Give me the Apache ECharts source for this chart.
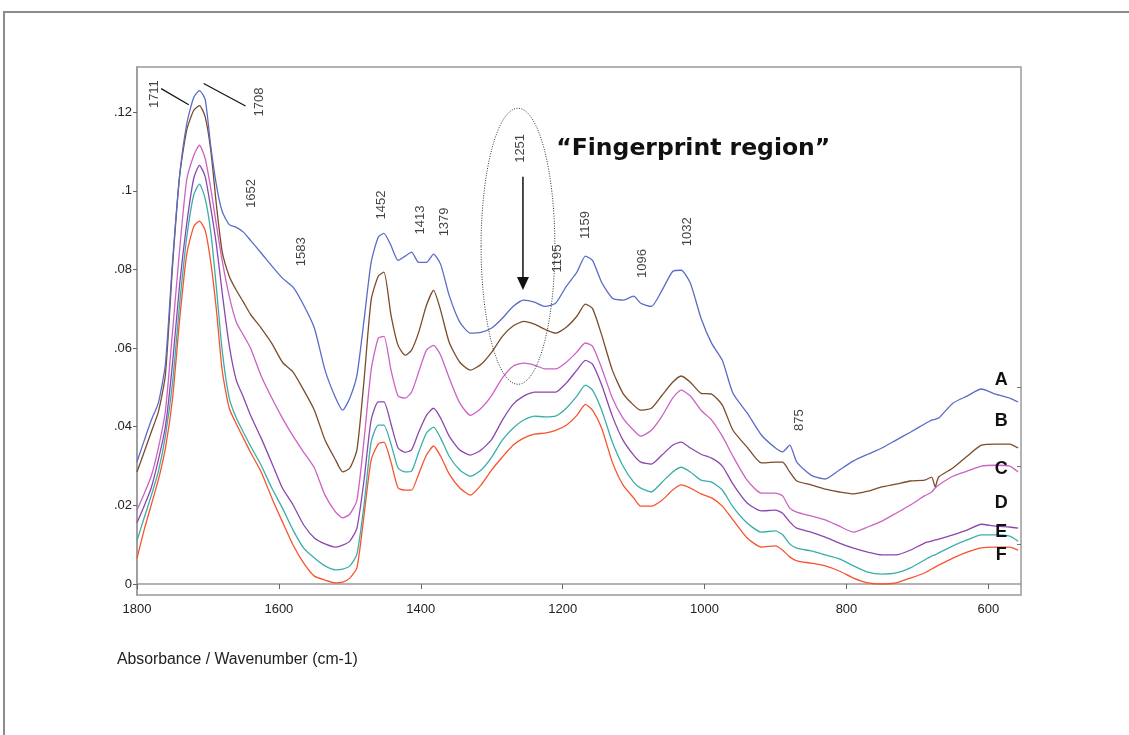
<!DOCTYPE html>
<html>
<head>
<meta charset="utf-8">
<title>IR absorbance spectra A–F</title>
<script src="https://cdn.jsdelivr.net/npm/echarts@6/dist/echarts.min.js"></script>
<style>
  html, body { margin: 0; padding: 0; background: #ffffff; }
  #chart { width: 1129px; height: 735px; }
</style>
</head>
<body>
<div id="chart"></div>
<script>
// Wavenumber sampling grid (cm-1), high to low
const wavenumbers = [
  1800, 1790, 1780, 1770, 1760, 1750, 1740, 1730, 1720, 1712,
  1704, 1696, 1688, 1680, 1670, 1660, 1650, 1640,
  1625, 1610, 1595, 1580, 1565, 1550, 1535, 1520,
  1510, 1500, 1490, 1480, 1470, 1460,
  1452, 1442, 1432, 1422, 1413, 1403, 1392, 1382, 1372,
  1360, 1345, 1330, 1315, 1300, 1285, 1270, 1255, 1240, 1225, 1210, 1195, 1180,
  1168, 1158, 1145, 1130, 1115, 1100, 1090, 1075, 1060, 1045, 1033, 1020, 1005, 990, 975, 960,
  940, 920, 900, 890, 880, 870, 850, 830, 810, 790, 770, 750, 730, 710, 690,
  680, 675, 670, 650, 630, 610, 590, 570, 558
];

// Absorbance of each sample on the grid above
const spectrumA = [
  0.0311, 0.0364, 0.0416, 0.0460, 0.0559, 0.0818, 0.1037, 0.1169, 0.1238, 0.1255,
  0.1233, 0.1113, 0.1014, 0.0948, 0.0914, 0.0907, 0.0895, 0.0874,
  0.0842, 0.0809, 0.0778, 0.0755, 0.0709, 0.0651, 0.0544, 0.0473,
  0.0442, 0.0473, 0.0531, 0.0671, 0.0818, 0.0882,
  0.0892, 0.0861, 0.0823, 0.0834, 0.0844, 0.0818, 0.0818, 0.0839, 0.0813,
  0.0734, 0.0666, 0.0638, 0.0640, 0.0651, 0.0676, 0.0706, 0.0722, 0.0717, 0.0706, 0.0714, 0.0757, 0.0793,
  0.0834, 0.0823, 0.0767, 0.0727, 0.0722, 0.0732, 0.0714, 0.0706, 0.0747, 0.0795, 0.0798, 0.0765, 0.0676, 0.0612, 0.0569, 0.0485,
  0.0435, 0.0379, 0.0346, 0.0336, 0.0353, 0.0310, 0.0277, 0.0267, 0.0290, 0.0313, 0.0330, 0.0346, 0.0366, 0.0386, 0.0407,
  0.0417, 0.0419, 0.0422, 0.0460, 0.0478, 0.0496, 0.0483, 0.0473, 0.0463
];
const spectrumB = [
  0.0285, 0.0335, 0.0386, 0.0437, 0.0531, 0.0806, 0.1037, 0.1154, 0.1205, 0.1217,
  0.1189, 0.1103, 0.0963, 0.0846, 0.0783, 0.0747, 0.0717, 0.0686,
  0.0651, 0.0612, 0.0564, 0.0539, 0.0493, 0.0442, 0.0366, 0.0315,
  0.0285, 0.0295, 0.0341, 0.0518, 0.0722, 0.0783,
  0.0793, 0.0684, 0.0607, 0.0582, 0.0595, 0.0640, 0.0709, 0.0747, 0.0696,
  0.0615, 0.0564, 0.0544, 0.0559, 0.0590, 0.0630, 0.0656, 0.0668, 0.0661, 0.0648, 0.0638, 0.0653, 0.0681,
  0.0712, 0.0701, 0.0633, 0.0544, 0.0485, 0.0455, 0.0442, 0.0447, 0.0480, 0.0513, 0.0529, 0.0513, 0.0485, 0.0483, 0.0455, 0.0391,
  0.0348, 0.0308, 0.0310, 0.0310, 0.0285, 0.0262, 0.0252, 0.0241, 0.0234, 0.0229, 0.0236, 0.0247, 0.0254, 0.0262, 0.0264,
  0.0272, 0.0247, 0.0272, 0.0295, 0.0325, 0.0353, 0.0356, 0.0356, 0.0346
];
const spectrumC = [
  0.0188, 0.0229, 0.0274, 0.0345, 0.0440, 0.0640, 0.0849, 0.1027, 0.1090, 0.1116,
  0.1083, 0.1006, 0.0912, 0.0823, 0.0732, 0.0666, 0.0633, 0.0600,
  0.0529, 0.0473, 0.0422, 0.0376, 0.0335, 0.0295, 0.0226, 0.0183,
  0.0168, 0.0178, 0.0213, 0.0366, 0.0544, 0.0625,
  0.0630, 0.0544, 0.0478, 0.0473, 0.0488, 0.0539, 0.0595, 0.0607, 0.0582,
  0.0524, 0.0460, 0.0429, 0.0447, 0.0480, 0.0524, 0.0554, 0.0562, 0.0557, 0.0547, 0.0547, 0.0564, 0.0590,
  0.0613, 0.0605, 0.0549, 0.0473, 0.0422, 0.0391, 0.0376, 0.0391, 0.0427, 0.0473, 0.0493, 0.0478, 0.0442, 0.0417, 0.0376, 0.0325,
  0.0264, 0.0231, 0.0231, 0.0224, 0.0193, 0.0183, 0.0173, 0.0163, 0.0147, 0.0132, 0.0145, 0.0160, 0.0180, 0.0201, 0.0224,
  0.0234, 0.0244, 0.0252, 0.0274, 0.0287, 0.0300, 0.0302, 0.0300, 0.0285
];
const spectrumD = [
  0.0156, 0.0198, 0.0244, 0.0315, 0.0400, 0.0560, 0.0760, 0.0915, 0.1032, 0.1065,
  0.1037, 0.0956, 0.0862, 0.0742, 0.0607, 0.0518, 0.0475, 0.0429,
  0.0371, 0.0308, 0.0244, 0.0201, 0.0150, 0.0117, 0.0102, 0.0094,
  0.0099, 0.0109, 0.0142, 0.0264, 0.0417, 0.0463,
  0.0463, 0.0407, 0.0346, 0.0335, 0.0341, 0.0386, 0.0429, 0.0447, 0.0422,
  0.0376, 0.0341, 0.0328, 0.0341, 0.0368, 0.0417, 0.0457, 0.0478, 0.0488, 0.0488, 0.0488, 0.0511, 0.0544,
  0.0569, 0.0559, 0.0506, 0.0427, 0.0366, 0.0328, 0.0310, 0.0305, 0.0328, 0.0353, 0.0361, 0.0346, 0.0330, 0.0320, 0.0300, 0.0254,
  0.0206, 0.0186, 0.0188, 0.0180, 0.0158, 0.0142, 0.0132, 0.0119, 0.0104, 0.0091, 0.0081, 0.0074, 0.0074, 0.0086, 0.0104,
  0.0109, 0.0112, 0.0114, 0.0125, 0.0137, 0.0152, 0.0147, 0.0145, 0.0142
];
const spectrumE = [
  0.0110, 0.0168, 0.0224, 0.0285, 0.0377, 0.0510, 0.0710, 0.0880, 0.0990, 0.1017,
  0.0981, 0.0895, 0.0752, 0.0595, 0.0473, 0.0422, 0.0386, 0.0351,
  0.0302, 0.0244, 0.0193, 0.0137, 0.0091, 0.0066, 0.0046, 0.0036,
  0.0038, 0.0046, 0.0076, 0.0201, 0.0361, 0.0404,
  0.0404, 0.0356, 0.0295, 0.0285, 0.0287, 0.0335, 0.0384, 0.0399, 0.0371,
  0.0325, 0.0290, 0.0274, 0.0290, 0.0323, 0.0366, 0.0396, 0.0417, 0.0427, 0.0425, 0.0427, 0.0447, 0.0478,
  0.0506, 0.0493, 0.0442, 0.0361, 0.0300, 0.0259, 0.0244, 0.0234, 0.0259, 0.0285, 0.0297, 0.0285, 0.0264, 0.0259, 0.0239, 0.0196,
  0.0155, 0.0132, 0.0135, 0.0125, 0.0102, 0.0091, 0.0084, 0.0074, 0.0064, 0.0046, 0.0030, 0.0025, 0.0028, 0.0041, 0.0061,
  0.0071, 0.0074, 0.0079, 0.0097, 0.0112, 0.0125, 0.0125, 0.0122, 0.0109
];
const spectrumF = [
  0.0065, 0.0137, 0.0201, 0.0264, 0.0345, 0.0470, 0.0670, 0.0838, 0.0909, 0.0923,
  0.0900, 0.0818, 0.0696, 0.0544, 0.0447, 0.0407, 0.0371, 0.0335,
  0.0285, 0.0219, 0.0158, 0.0099, 0.0053, 0.0020, 0.0010, 0.0003,
  0.0005, 0.0015, 0.0041, 0.0175, 0.0315, 0.0356,
  0.0361, 0.0310, 0.0244, 0.0239, 0.0239, 0.0280, 0.0328, 0.0351, 0.0325,
  0.0280, 0.0244, 0.0226, 0.0252, 0.0290, 0.0323, 0.0353, 0.0371, 0.0381, 0.0384, 0.0391, 0.0404, 0.0429,
  0.0457, 0.0442, 0.0396, 0.0310, 0.0252, 0.0219, 0.0198, 0.0198, 0.0213, 0.0239, 0.0252, 0.0244, 0.0229, 0.0219, 0.0198, 0.0163,
  0.0117, 0.0094, 0.0097, 0.0086, 0.0069, 0.0059, 0.0053, 0.0046, 0.0033, 0.0015, 0.0003, 0.0000, 0.0003, 0.0015, 0.0028,
  0.0038, 0.0043, 0.0048, 0.0066, 0.0081, 0.0092, 0.0094, 0.0094, 0.0086
];

const sampleNames = ['A', 'B', 'C', 'D', 'E', 'F'];
const spectra = [spectrumA, spectrumB, spectrumC, spectrumD, spectrumE, spectrumF];
const lineColors = ['#5a6cc6', '#7a4c2c', '#cc62c4', '#8c47ae', '#3aaeaa', '#f7542e'];

// Axis tick values
const xTicks = [1800, 1600, 1400, 1200, 1000, 800, 600];
const yTicks = [0, 0.02, 0.04, 0.06, 0.08, 0.1, 0.12];
const yMinorRight = [0.01, 0.03, 0.05];

// Band assignments written beside the peaks: [text, wavenumber, absorbance]
const peakNotes = [
  ['1711', 1775, 0.1246],
  ['1708', 1628, 0.1226],
  ['1652', 1639, 0.0993],
  ['1583', 1568, 0.0845],
  ['1452', 1455, 0.0964],
  ['1413', 1401, 0.0926],
  ['1379', 1367, 0.0921],
  ['1251', 1260, 0.1108],
  ['1195', 1208, 0.0828],
  ['1159', 1168, 0.0913],
  ['1096', 1088, 0.0815],
  ['1032', 1024, 0.0896],
  ['875', 867, 0.0417]
];
// Sample letters at the right-hand end of each trace: absorbance level
const letterLevels = [0.0519, 0.0414, 0.0292, 0.0205, 0.0131, 0.0074];
const letterWavenumber = 582;

const chart = echarts.init(document.getElementById('chart'), null, { renderer: 'canvas' });

const lineSeries = spectra.map((vals, i) => ({
  name: sampleNames[i],
  type: 'line',
  xAxisIndex: 0,
  yAxisIndex: 0,
  data: wavenumbers.map((w, k) => [w, vals[k]]),
  showSymbol: false,
  smooth: 0.2,
  lineStyle: { color: lineColors[i], width: 1.3 },
  itemStyle: { color: lineColors[i] },
  silent: true,
  z: 3 + (5 - i)
}));

const noteSeries = {
  type: 'scatter',
  xAxisIndex: 0,
  yAxisIndex: 0,
  data: peakNotes.map(n => [n[1], n[2]]),
  symbolSize: 1,
  itemStyle: { color: 'rgba(0,0,0,0)' },
  silent: true,
  label: {
    show: true,
    position: 'inside',
    rotate: 90,
    formatter: p => peakNotes[p.dataIndex][0],
    fontFamily: 'Liberation Sans, Arial, sans-serif',
    fontSize: 13,
    color: '#111'
  },
  z: 10
};

const axisFont = { fontFamily: 'Liberation Sans, Arial, sans-serif', fontSize: 13, color: '#222' };
const frameColor = '#9a9a9a';

chart.setOption({
  animation: false,
  backgroundColor: '#ffffff',
  grid: {
    left: 137, right: 108, top: 67, bottom: 140,
    show: true, borderColor: frameColor, borderWidth: 1.5, backgroundColor: 'transparent'
  },
  xAxis: {
    type: 'value',
    inverse: true,
    min: 554,
    max: 1800,
    axisLine: { show: true, lineStyle: { color: frameColor, width: 1.5 } },
    axisTick: { show: true, customValues: xTicks, length: 5, lineStyle: { color: '#666' } },
    axisLabel: Object.assign({ customValues: xTicks, margin: 8, formatter: v => String(Math.round(v)) }, axisFont),
    splitLine: { show: false }
  },
  yAxis: [
    {
      type: 'value',
      min: -0.0028,
      max: 0.1315,
      axisLine: { show: true, lineStyle: { color: frameColor, width: 1.5 } },
      axisTick: { show: true, customValues: yTicks, length: 4, lineStyle: { color: '#666' } },
      axisLabel: Object.assign({
        customValues: yTicks,
        margin: 5,
        formatter: v => v === 0 ? '0' : String(+v.toFixed(2)).replace(/^0\./, '.')
      }, axisFont),
      splitLine: { show: false }
    },
    {
      type: 'value',
      position: 'right',
      min: -0.0028,
      max: 0.1315,
      axisLine: { show: false },
      axisTick: { show: true, inside: true, customValues: yMinorRight, length: 4, lineStyle: { color: '#777' } },
      axisLabel: { show: false },
      splitLine: { show: false }
    }
  ],
  series: lineSeries.concat([noteSeries])
});

// Overlay: leader lines, fingerprint ellipse and arrow, letters, titles
const px = (w, v) => chart.convertToPixel({ gridIndex: 0 }, [w, v]);

function buildOverlay() {
  const g = [];
  // outer frame
  g.push({
    type: 'rect', shape: { x: 4, y: 12, width: 1140, height: 740 },
    style: { fill: 'none', stroke: '#8c8c8c', lineWidth: 2 }, silent: true
  });
  // leader lines for 1711 / 1708
  const leaders = [[1766, 0.1260, 1727, 0.1219], [1706, 0.1273, 1647, 0.1216]];
  leaders.forEach(l => {
    const a = px(l[0], l[1]), b = px(l[2], l[3]);
    g.push({ type: 'line', shape: { x1: a[0], y1: a[1], x2: b[0], y2: b[1] },
      style: { stroke: '#111', lineWidth: 1.2 }, silent: true, z: 20 });
  });
  // dotted ellipse around the fingerprint band
  const c = px(1263, 0.0859);
  const edgeX = px(1263 - 52, 0.0859);
  const edgeY = px(1263, 0.0859 + 0.0351);
  g.push({
    type: 'ellipse',
    shape: { cx: c[0], cy: c[1], rx: Math.abs(edgeX[0] - c[0]), ry: Math.abs(c[1] - edgeY[1]) },
    style: { fill: 'none', stroke: '#333', lineWidth: 1, lineDash: [1, 1.5] },
    silent: true, z: 20
  });
  // arrow pointing at the 1251 band
  const t = px(1256, 0.1036), h = px(1256, 0.0748);
  g.push({ type: 'line', shape: { x1: t[0], y1: t[1], x2: h[0], y2: h[1] - 10 },
    style: { stroke: '#111', lineWidth: 1.5 }, silent: true, z: 20 });
  g.push({ type: 'polygon', shape: { points: [[h[0] - 6, h[1] - 13], [h[0] + 6, h[1] - 13], [h[0], h[1]]] },
    style: { fill: '#111' }, silent: true, z: 20 });
  // caption
  const f = px(1209, 0.1106);
  g.push({
    type: 'text', x: f[0], y: f[1], silent: true, z: 20,
    style: { text: '\u201CFingerprint region\u201D', fill: '#111', fontFamily: 'DejaVu Sans, sans-serif',
      fontWeight: 'bold', fontSize: 23.5, verticalAlign: 'middle', align: 'left' }
  });
  // sample letters
  letterLevels.forEach((v, i) => {
    const p = px(letterWavenumber, v);
    g.push({
      type: 'text', x: p[0], y: p[1], silent: true, z: 20,
      style: { text: sampleNames[i], fill: '#111', fontFamily: 'Liberation Sans, Arial, sans-serif',
        fontWeight: 'bold', fontSize: 18, align: 'center', verticalAlign: 'middle' }
    });
  });
  // axis title
  g.push({
    type: 'text', x: 117, y: 660, silent: true,
    style: { text: 'Absorbance / Wavenumber (cm-1)', fill: '#222', fontFamily: 'Liberation Sans, Arial, sans-serif',
      fontSize: 15.8, align: 'left', verticalAlign: 'middle' }
  });
  return g;
}

chart.setOption({ graphic: buildOverlay() });
</script>
</body>
</html>
